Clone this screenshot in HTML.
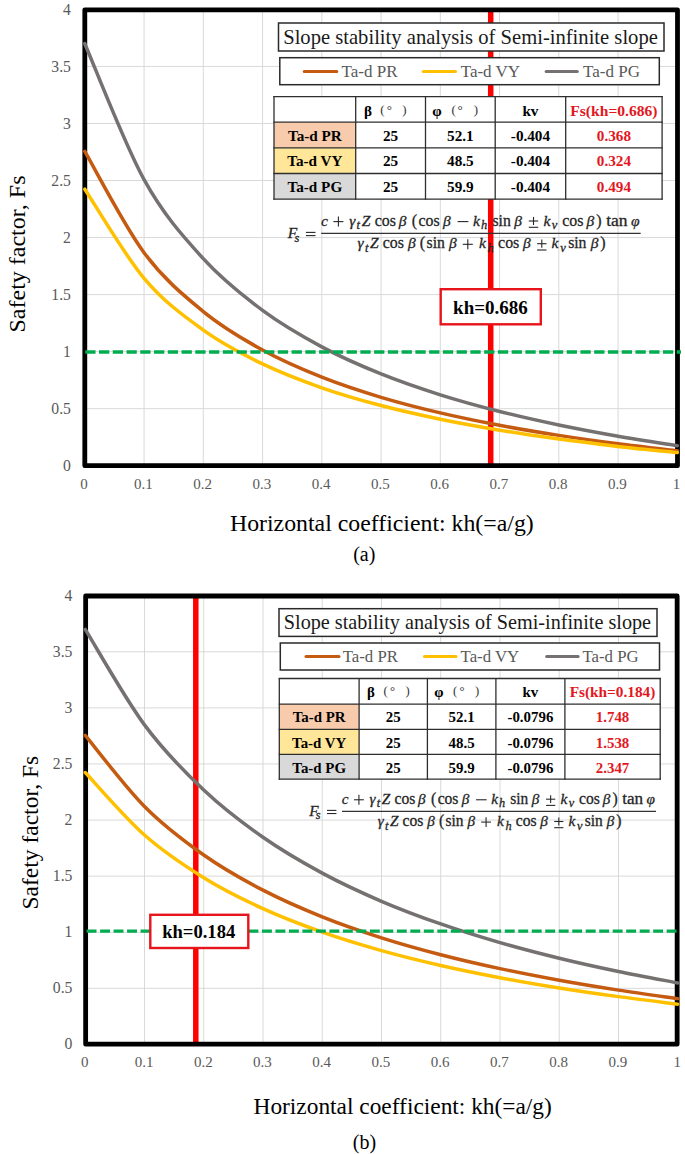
<!DOCTYPE html>
<html><head><meta charset="utf-8"><style>html,body{margin:0;padding:0;background:#fff;}svg{display:block;} svg text{font-family:"Liberation Serif",serif;}</style></head>
<body>
<svg width="685" height="1154" viewBox="0 0 685 1154">
<rect width="685" height="1154" fill="#fff"/>
<line x1="144.07" y1="9.40" x2="144.07" y2="465.70" stroke="#D9D9D9" stroke-width="1"/>
<line x1="203.32" y1="9.40" x2="203.32" y2="465.70" stroke="#D9D9D9" stroke-width="1"/>
<line x1="262.57" y1="9.40" x2="262.57" y2="465.70" stroke="#D9D9D9" stroke-width="1"/>
<line x1="321.82" y1="9.40" x2="321.82" y2="465.70" stroke="#D9D9D9" stroke-width="1"/>
<line x1="381.07" y1="9.40" x2="381.07" y2="465.70" stroke="#D9D9D9" stroke-width="1"/>
<line x1="440.32" y1="9.40" x2="440.32" y2="465.70" stroke="#D9D9D9" stroke-width="1"/>
<line x1="499.57" y1="9.40" x2="499.57" y2="465.70" stroke="#D9D9D9" stroke-width="1"/>
<line x1="558.82" y1="9.40" x2="558.82" y2="465.70" stroke="#D9D9D9" stroke-width="1"/>
<line x1="618.07" y1="9.40" x2="618.07" y2="465.70" stroke="#D9D9D9" stroke-width="1"/>
<line x1="84.82" y1="408.66" x2="677.32" y2="408.66" stroke="#D9D9D9" stroke-width="1"/>
<line x1="84.82" y1="351.62" x2="677.32" y2="351.62" stroke="#D9D9D9" stroke-width="1"/>
<line x1="84.82" y1="294.59" x2="677.32" y2="294.59" stroke="#D9D9D9" stroke-width="1"/>
<line x1="84.82" y1="237.55" x2="677.32" y2="237.55" stroke="#D9D9D9" stroke-width="1"/>
<line x1="84.82" y1="180.51" x2="677.32" y2="180.51" stroke="#D9D9D9" stroke-width="1"/>
<line x1="84.82" y1="123.47" x2="677.32" y2="123.47" stroke="#D9D9D9" stroke-width="1"/>
<line x1="84.82" y1="66.44" x2="677.32" y2="66.44" stroke="#D9D9D9" stroke-width="1"/>
<line x1="490.70" y1="9.85" x2="490.70" y2="465.65" stroke="#FF0000" stroke-width="5.5"/>
<rect x="84.80" y="9.85" width="592.70" height="455.80" fill="none" stroke="#000" stroke-width="4.8" stroke-linejoin="round"/>
<text x="70.90" y="471.10" font-size="15.7" fill="#595959" text-anchor="end">0</text>
<text x="70.90" y="414.06" font-size="15.7" fill="#595959" text-anchor="end">0.5</text>
<text x="70.90" y="357.02" font-size="15.7" fill="#595959" text-anchor="end">1</text>
<text x="70.90" y="299.99" font-size="15.7" fill="#595959" text-anchor="end">1.5</text>
<text x="70.90" y="242.95" font-size="15.7" fill="#595959" text-anchor="end">2</text>
<text x="70.90" y="185.91" font-size="15.7" fill="#595959" text-anchor="end">2.5</text>
<text x="70.90" y="128.87" font-size="15.7" fill="#595959" text-anchor="end">3</text>
<text x="70.90" y="71.84" font-size="15.7" fill="#595959" text-anchor="end">3.5</text>
<text x="70.90" y="14.80" font-size="15.7" fill="#595959" text-anchor="end">4</text>
<text x="84.02" y="489.00" font-size="15" fill="#595959" text-anchor="middle">0</text>
<text x="143.27" y="489.00" font-size="15" fill="#595959" text-anchor="middle">0.1</text>
<text x="202.52" y="489.00" font-size="15" fill="#595959" text-anchor="middle">0.2</text>
<text x="261.77" y="489.00" font-size="15" fill="#595959" text-anchor="middle">0.3</text>
<text x="321.02" y="489.00" font-size="15" fill="#595959" text-anchor="middle">0.4</text>
<text x="380.27" y="489.00" font-size="15" fill="#595959" text-anchor="middle">0.5</text>
<text x="439.52" y="489.00" font-size="15" fill="#595959" text-anchor="middle">0.6</text>
<text x="498.77" y="489.00" font-size="15" fill="#595959" text-anchor="middle">0.7</text>
<text x="558.02" y="489.00" font-size="15" fill="#595959" text-anchor="middle">0.8</text>
<text x="617.27" y="489.00" font-size="15" fill="#595959" text-anchor="middle">0.9</text>
<text x="676.52" y="489.00" font-size="15" fill="#595959" text-anchor="middle">1</text>
<path d="M84.82,151.45 C94.69,168.33 124.32,226.00 144.07,252.69 C163.82,279.37 183.57,295.33 203.32,311.55 C223.07,327.78 242.82,339.11 262.57,350.05 C282.32,360.99 302.07,369.31 321.82,377.19 C341.57,385.07 361.32,391.40 381.07,397.35 C400.82,403.31 420.57,408.26 440.32,412.92 C460.07,417.58 479.82,421.56 499.57,425.30 C519.32,429.05 539.07,432.31 558.82,435.39 C578.57,438.47 598.32,441.19 618.07,443.77 C637.82,446.34 667.44,449.65 677.32,450.83" fill="none" stroke="#C55A11" stroke-width="3.5" stroke-linejoin="round" stroke-linecap="round"/>
<path d="M84.82,189.19 C94.69,204.04 124.32,254.79 144.07,278.27 C163.82,301.75 183.57,315.79 203.32,330.07 C223.07,344.34 242.82,354.31 262.57,363.94 C282.32,373.56 302.07,380.88 321.82,387.82 C341.57,394.76 361.32,400.32 381.07,405.56 C400.82,410.80 420.57,415.16 440.32,419.26 C460.07,423.36 479.82,426.86 499.57,430.16 C519.32,433.45 539.07,436.32 558.82,439.03 C578.57,441.74 598.32,444.14 618.07,446.40 C637.82,448.66 667.44,451.58 677.32,452.61" fill="none" stroke="#FFC000" stroke-width="3.5" stroke-linejoin="round" stroke-linecap="round"/>
<path d="M84.82,43.68 C94.69,66.34 124.32,143.80 144.07,179.63 C163.82,215.47 183.57,236.90 203.32,258.69 C223.07,280.48 242.82,295.70 262.57,310.39 C282.32,325.08 302.07,336.25 321.82,346.84 C341.57,357.42 361.32,365.91 381.07,373.91 C400.82,381.91 420.57,388.56 440.32,394.82 C460.07,401.08 479.82,406.42 499.57,411.45 C519.32,416.48 539.07,420.86 558.82,425.00 C578.57,429.13 598.32,432.79 618.07,436.24 C637.82,439.70 667.44,444.15 677.32,445.73" fill="none" stroke="#767171" stroke-width="3.5" stroke-linejoin="round" stroke-linecap="round"/>
<line x1="85.25" y1="352.00" x2="681.00" y2="352.00" stroke="#00AC50" stroke-width="3.4" stroke-dasharray="10.3 3.455" />
<rect x="278.50" y="23.00" width="385.50" height="28.00" fill="#fff" stroke="#2a2a2a" stroke-width="1.5"/>
<text x="283.20" y="44.00" font-size="20.6" fill="#1a1a1a">Slope stability analysis of Semi-infinite slope</text>
<rect x="279.80" y="57.70" width="379.50" height="27.00" fill="#fff" stroke="#2a2a2a" stroke-width="1.5"/>
<line x1="304.20" y1="71.40" x2="336.80" y2="71.40" stroke="#C55A11" stroke-width="3" stroke-linecap="round"/>
<text x="341.60" y="76.80" font-size="17" fill="#595959">Ta-d PR</text>
<line x1="423.30" y1="71.40" x2="455.50" y2="71.40" stroke="#FFC000" stroke-width="3" stroke-linecap="round"/>
<text x="460.70" y="76.80" font-size="17" fill="#595959">Ta-d VY</text>
<line x1="546.10" y1="71.40" x2="577.30" y2="71.40" stroke="#767171" stroke-width="3" stroke-linecap="round"/>
<text x="583.10" y="76.80" font-size="17" fill="#595959">Ta-d PG</text>
<rect x="274.00" y="96.70" width="388.10" height="102.40" fill="#fff"/>
<rect x="274.00" y="122.20" width="81.70" height="25.60" fill="#F8CBAD"/>
<rect x="274.00" y="147.80" width="81.70" height="25.70" fill="#FFE699"/>
<rect x="274.00" y="173.50" width="81.70" height="25.60" fill="#D9D9D9"/>
<line x1="274.00" y1="96.10" x2="274.00" y2="199.70" stroke="#2e2e2e" stroke-width="1.3"/>
<line x1="355.70" y1="96.10" x2="355.70" y2="199.70" stroke="#2e2e2e" stroke-width="1.3"/>
<line x1="425.50" y1="96.10" x2="425.50" y2="199.70" stroke="#2e2e2e" stroke-width="1.3"/>
<line x1="495.20" y1="96.10" x2="495.20" y2="199.70" stroke="#2e2e2e" stroke-width="1.3"/>
<line x1="565.70" y1="96.10" x2="565.70" y2="199.70" stroke="#2e2e2e" stroke-width="1.3"/>
<line x1="662.10" y1="96.10" x2="662.10" y2="199.70" stroke="#2e2e2e" stroke-width="1.3"/>
<line x1="273.40" y1="96.70" x2="662.70" y2="96.70" stroke="#2e2e2e" stroke-width="1.3"/>
<line x1="273.40" y1="122.20" x2="662.70" y2="122.20" stroke="#2e2e2e" stroke-width="1.3"/>
<line x1="273.40" y1="147.80" x2="662.70" y2="147.80" stroke="#2e2e2e" stroke-width="1.3"/>
<line x1="273.40" y1="173.50" x2="662.70" y2="173.50" stroke="#2e2e2e" stroke-width="1.3"/>
<line x1="273.40" y1="199.10" x2="662.70" y2="199.10" stroke="#2e2e2e" stroke-width="1.3"/>
<text x="363.90" y="115.70" font-size="15.2" fill="#000" font-weight="bold">β</text>
<text x="380.30" y="113.90" font-size="12.92" fill="#333">(</text>
<text x="386.80" y="113.90" font-size="12.92" fill="#333">°</text>
<text x="402.20" y="113.90" font-size="12.92" fill="#333">)</text>
<text x="432.30" y="115.70" font-size="15.2" fill="#000" font-weight="bold">φ</text>
<text x="451.40" y="113.90" font-size="12.92" fill="#333">(</text>
<text x="457.60" y="113.90" font-size="12.92" fill="#333">°</text>
<text x="473.70" y="113.90" font-size="12.92" fill="#333">)</text>
<text x="530.45" y="115.70" font-size="15.2" fill="#000" text-anchor="middle" font-weight="bold">kv</text>
<text x="613.90" y="115.70" font-size="15.6" fill="#E3171E" text-anchor="middle" font-weight="bold">Fs(kh=0.686)</text>
<text x="314.85" y="140.80" font-size="15.2" fill="#000" text-anchor="middle" font-weight="bold">Ta-d PR</text>
<text x="390.60" y="140.80" font-size="15.2" fill="#000" text-anchor="middle" font-weight="bold">25</text>
<text x="460.35" y="140.80" font-size="15.2" fill="#000" text-anchor="middle" font-weight="bold">52.1</text>
<text x="530.45" y="140.80" font-size="15.2" fill="#000" text-anchor="middle" font-weight="bold">-0.404</text>
<text x="613.90" y="140.80" font-size="15.2" fill="#E3171E" text-anchor="middle" font-weight="bold">0.368</text>
<text x="314.85" y="166.30" font-size="15.2" fill="#000" text-anchor="middle" font-weight="bold">Ta-d VY</text>
<text x="390.60" y="166.30" font-size="15.2" fill="#000" text-anchor="middle" font-weight="bold">25</text>
<text x="460.35" y="166.30" font-size="15.2" fill="#000" text-anchor="middle" font-weight="bold">48.5</text>
<text x="530.45" y="166.30" font-size="15.2" fill="#000" text-anchor="middle" font-weight="bold">-0.404</text>
<text x="613.90" y="166.30" font-size="15.2" fill="#E3171E" text-anchor="middle" font-weight="bold">0.324</text>
<text x="314.85" y="191.80" font-size="15.2" fill="#000" text-anchor="middle" font-weight="bold">Ta-d PG</text>
<text x="390.60" y="191.80" font-size="15.2" fill="#000" text-anchor="middle" font-weight="bold">25</text>
<text x="460.35" y="191.80" font-size="15.2" fill="#000" text-anchor="middle" font-weight="bold">59.9</text>
<text x="530.45" y="191.80" font-size="15.2" fill="#000" text-anchor="middle" font-weight="bold">-0.404</text>
<text x="613.90" y="191.80" font-size="15.2" fill="#E3171E" text-anchor="middle" font-weight="bold">0.494</text>
<rect x="440.70" y="289.20" width="100.10" height="35.10" fill="#fff" stroke="#E8141B" stroke-width="2.4"/>
<text x="490.45" y="314.20" font-size="19" fill="#000" text-anchor="middle" font-weight="bold">kh=0.686</text>
<g>
<text x="292.50" y="238.00" font-size="15.5" fill="#262626" text-anchor="middle" font-style="italic" stroke="#262626" stroke-width="0.3">F</text>
<text x="296.90" y="241.60" font-size="12.5" fill="#262626" text-anchor="middle" font-style="italic" stroke="#262626" stroke-width="0.3">s</text>
<line x1="305.90" y1="232.40" x2="315.50" y2="232.40" stroke="#262626" stroke-width="1.1"/><line x1="305.90" y1="235.60" x2="315.50" y2="235.60" stroke="#262626" stroke-width="1.1"/>
<line x1="321.2" y1="233.4" x2="640.7" y2="233.4" stroke="#333" stroke-width="1.1"/>
<text x="324.40" y="225.60" font-size="15.5" fill="#262626" text-anchor="middle" font-style="italic" stroke="#262626" stroke-width="0.3">c</text>
<line x1="333.40" y1="221.60" x2="343.40" y2="221.60" stroke="#262626" stroke-width="1.1"/><line x1="338.40" y1="216.60" x2="338.40" y2="226.60" stroke="#262626" stroke-width="1.1"/>
<text x="352.20" y="225.60" font-size="15.5" fill="#262626" text-anchor="middle" font-style="italic" stroke="#262626" stroke-width="0.3">γ</text>
<text x="358.30" y="229.40" font-size="12.5" fill="#262626" text-anchor="middle" font-style="italic" stroke="#262626" stroke-width="0.3">t</text>
<text x="366.00" y="225.60" font-size="15.5" fill="#262626" text-anchor="middle" font-style="italic" stroke="#262626" stroke-width="0.3">Z</text>
<text x="385.30" y="225.60" font-size="16.0" fill="#262626" text-anchor="middle" stroke="#262626" stroke-width="0.3" textLength="21.2" lengthAdjust="spacingAndGlyphs">cos</text>
<text x="402.50" y="225.60" font-size="15.5" fill="#262626" text-anchor="middle" font-style="italic" stroke="#262626" stroke-width="0.3">β</text>
<text x="414.40" y="225.60" font-size="16.0" fill="#262626" text-anchor="middle" stroke="#262626" stroke-width="0.3">(</text>
<text x="429.10" y="225.60" font-size="16.0" fill="#262626" text-anchor="middle" stroke="#262626" stroke-width="0.3" textLength="21.2" lengthAdjust="spacingAndGlyphs">cos</text>
<text x="446.90" y="225.60" font-size="15.5" fill="#262626" text-anchor="middle" font-style="italic" stroke="#262626" stroke-width="0.3">β</text>
<line x1="457.60" y1="221.60" x2="468.40" y2="221.60" stroke="#262626" stroke-width="1.1"/>
<text x="476.50" y="225.60" font-size="15.5" fill="#262626" text-anchor="middle" font-style="italic" stroke="#262626" stroke-width="0.3">k</text>
<text x="484.00" y="229.40" font-size="12.5" fill="#262626" text-anchor="middle" font-style="italic" stroke="#262626" stroke-width="0.3">h</text>
<text x="501.60" y="225.60" font-size="16.0" fill="#262626" text-anchor="middle" stroke="#262626" stroke-width="0.3" textLength="18.3" lengthAdjust="spacingAndGlyphs">sin</text>
<text x="518.10" y="225.60" font-size="15.5" fill="#262626" text-anchor="middle" font-style="italic" stroke="#262626" stroke-width="0.3">β</text>
<line x1="528.80" y1="221.00" x2="538.20" y2="221.00" stroke="#262626" stroke-width="1.1"/><line x1="533.50" y1="216.90" x2="533.50" y2="225.00" stroke="#262626" stroke-width="1.1"/><line x1="528.80" y1="227.30" x2="538.20" y2="227.30" stroke="#262626" stroke-width="1.1"/>
<text x="547.00" y="225.60" font-size="15.5" fill="#262626" text-anchor="middle" font-style="italic" stroke="#262626" stroke-width="0.3">k</text>
<text x="554.60" y="229.40" font-size="12.5" fill="#262626" text-anchor="middle" font-style="italic" stroke="#262626" stroke-width="0.3">v</text>
<text x="572.90" y="225.60" font-size="16.0" fill="#262626" text-anchor="middle" stroke="#262626" stroke-width="0.3" textLength="21.2" lengthAdjust="spacingAndGlyphs">cos</text>
<text x="590.40" y="225.60" font-size="15.5" fill="#262626" text-anchor="middle" font-style="italic" stroke="#262626" stroke-width="0.3">β</text>
<text x="599.00" y="225.60" font-size="16.0" fill="#262626" text-anchor="middle" stroke="#262626" stroke-width="0.3">)</text>
<text x="616.90" y="225.60" font-size="16.0" fill="#262626" text-anchor="middle" stroke="#262626" stroke-width="0.3" textLength="21.3" lengthAdjust="spacingAndGlyphs">tan</text>
<text x="635.40" y="225.60" font-size="15.5" fill="#262626" text-anchor="middle" font-style="italic" stroke="#262626" stroke-width="0.3">φ</text>
<text x="360.50" y="248.30" font-size="15.5" fill="#262626" text-anchor="middle" font-style="italic" stroke="#262626" stroke-width="0.3">γ</text>
<text x="366.70" y="252.10" font-size="12.5" fill="#262626" text-anchor="middle" font-style="italic" stroke="#262626" stroke-width="0.3">t</text>
<text x="374.40" y="248.30" font-size="15.5" fill="#262626" text-anchor="middle" font-style="italic" stroke="#262626" stroke-width="0.3">Z</text>
<text x="393.40" y="248.30" font-size="16.0" fill="#262626" text-anchor="middle" stroke="#262626" stroke-width="0.3" textLength="21.2" lengthAdjust="spacingAndGlyphs">cos</text>
<text x="411.90" y="248.30" font-size="15.5" fill="#262626" text-anchor="middle" font-style="italic" stroke="#262626" stroke-width="0.3">β</text>
<text x="422.50" y="248.30" font-size="16.0" fill="#262626" text-anchor="middle" stroke="#262626" stroke-width="0.3">(</text>
<text x="435.70" y="248.30" font-size="16.0" fill="#262626" text-anchor="middle" stroke="#262626" stroke-width="0.3" textLength="18.3" lengthAdjust="spacingAndGlyphs">sin</text>
<text x="452.80" y="248.30" font-size="15.5" fill="#262626" text-anchor="middle" font-style="italic" stroke="#262626" stroke-width="0.3">β</text>
<line x1="462.80" y1="244.30" x2="472.80" y2="244.30" stroke="#262626" stroke-width="1.1"/><line x1="467.80" y1="239.30" x2="467.80" y2="249.30" stroke="#262626" stroke-width="1.1"/>
<text x="482.40" y="248.30" font-size="15.5" fill="#262626" text-anchor="middle" font-style="italic" stroke="#262626" stroke-width="0.3">k</text>
<text x="490.60" y="252.10" font-size="12.5" fill="#262626" text-anchor="middle" font-style="italic" stroke="#262626" stroke-width="0.3">h</text>
<text x="508.70" y="248.30" font-size="16.0" fill="#262626" text-anchor="middle" stroke="#262626" stroke-width="0.3" textLength="21.2" lengthAdjust="spacingAndGlyphs">cos</text>
<text x="526.90" y="248.30" font-size="15.5" fill="#262626" text-anchor="middle" font-style="italic" stroke="#262626" stroke-width="0.3">β</text>
<line x1="537.10" y1="243.70" x2="546.50" y2="243.70" stroke="#262626" stroke-width="1.1"/><line x1="541.80" y1="239.60" x2="541.80" y2="247.70" stroke="#262626" stroke-width="1.1"/><line x1="537.10" y1="250.00" x2="546.50" y2="250.00" stroke="#262626" stroke-width="1.1"/>
<text x="555.00" y="248.30" font-size="15.5" fill="#262626" text-anchor="middle" font-style="italic" stroke="#262626" stroke-width="0.3">k</text>
<text x="563.00" y="252.10" font-size="12.5" fill="#262626" text-anchor="middle" font-style="italic" stroke="#262626" stroke-width="0.3">v</text>
<text x="577.30" y="248.30" font-size="16.0" fill="#262626" text-anchor="middle" stroke="#262626" stroke-width="0.3" textLength="18.3" lengthAdjust="spacingAndGlyphs">sin</text>
<text x="594.50" y="248.30" font-size="15.5" fill="#262626" text-anchor="middle" font-style="italic" stroke="#262626" stroke-width="0.3">β</text>
<text x="603.00" y="248.30" font-size="16.0" fill="#262626" text-anchor="middle" stroke="#262626" stroke-width="0.3">)</text>
</g>
<line x1="144.50" y1="595.70" x2="144.50" y2="1044.40" stroke="#D9D9D9" stroke-width="1"/>
<line x1="203.75" y1="595.70" x2="203.75" y2="1044.40" stroke="#D9D9D9" stroke-width="1"/>
<line x1="262.99" y1="595.70" x2="262.99" y2="1044.40" stroke="#D9D9D9" stroke-width="1"/>
<line x1="322.24" y1="595.70" x2="322.24" y2="1044.40" stroke="#D9D9D9" stroke-width="1"/>
<line x1="381.48" y1="595.70" x2="381.48" y2="1044.40" stroke="#D9D9D9" stroke-width="1"/>
<line x1="440.72" y1="595.70" x2="440.72" y2="1044.40" stroke="#D9D9D9" stroke-width="1"/>
<line x1="499.97" y1="595.70" x2="499.97" y2="1044.40" stroke="#D9D9D9" stroke-width="1"/>
<line x1="559.21" y1="595.70" x2="559.21" y2="1044.40" stroke="#D9D9D9" stroke-width="1"/>
<line x1="618.46" y1="595.70" x2="618.46" y2="1044.40" stroke="#D9D9D9" stroke-width="1"/>
<line x1="85.26" y1="988.31" x2="677.70" y2="988.31" stroke="#D9D9D9" stroke-width="1"/>
<line x1="85.26" y1="932.23" x2="677.70" y2="932.23" stroke="#D9D9D9" stroke-width="1"/>
<line x1="85.26" y1="876.14" x2="677.70" y2="876.14" stroke="#D9D9D9" stroke-width="1"/>
<line x1="85.26" y1="820.05" x2="677.70" y2="820.05" stroke="#D9D9D9" stroke-width="1"/>
<line x1="85.26" y1="763.96" x2="677.70" y2="763.96" stroke="#D9D9D9" stroke-width="1"/>
<line x1="85.26" y1="707.88" x2="677.70" y2="707.88" stroke="#D9D9D9" stroke-width="1"/>
<line x1="85.26" y1="651.79" x2="677.70" y2="651.79" stroke="#D9D9D9" stroke-width="1"/>
<line x1="195.80" y1="596.00" x2="195.80" y2="1044.15" stroke="#FF0000" stroke-width="5.5"/>
<rect x="85.65" y="596.00" width="591.50" height="448.15" fill="none" stroke="#000" stroke-width="4.8" stroke-linejoin="round"/>
<text x="72.40" y="1049.40" font-size="15.7" fill="#595959" text-anchor="end">0</text>
<text x="72.40" y="993.31" font-size="15.7" fill="#595959" text-anchor="end">0.5</text>
<text x="72.40" y="937.23" font-size="15.7" fill="#595959" text-anchor="end">1</text>
<text x="72.40" y="881.14" font-size="15.7" fill="#595959" text-anchor="end">1.5</text>
<text x="72.40" y="825.05" font-size="15.7" fill="#595959" text-anchor="end">2</text>
<text x="72.40" y="768.96" font-size="15.7" fill="#595959" text-anchor="end">2.5</text>
<text x="72.40" y="712.88" font-size="15.7" fill="#595959" text-anchor="end">3</text>
<text x="72.40" y="656.79" font-size="15.7" fill="#595959" text-anchor="end">3.5</text>
<text x="72.40" y="600.70" font-size="15.7" fill="#595959" text-anchor="end">4</text>
<text x="84.76" y="1066.80" font-size="15" fill="#595959" text-anchor="middle">0</text>
<text x="144.00" y="1066.80" font-size="15" fill="#595959" text-anchor="middle">0.1</text>
<text x="203.25" y="1066.80" font-size="15" fill="#595959" text-anchor="middle">0.2</text>
<text x="262.49" y="1066.80" font-size="15" fill="#595959" text-anchor="middle">0.3</text>
<text x="321.74" y="1066.80" font-size="15" fill="#595959" text-anchor="middle">0.4</text>
<text x="380.98" y="1066.80" font-size="15" fill="#595959" text-anchor="middle">0.5</text>
<text x="440.22" y="1066.80" font-size="15" fill="#595959" text-anchor="middle">0.6</text>
<text x="499.47" y="1066.80" font-size="15" fill="#595959" text-anchor="middle">0.7</text>
<text x="558.71" y="1066.80" font-size="15" fill="#595959" text-anchor="middle">0.8</text>
<text x="617.96" y="1066.80" font-size="15" fill="#595959" text-anchor="middle">0.9</text>
<text x="677.20" y="1066.80" font-size="15" fill="#595959" text-anchor="middle">1</text>
<path d="M85.26,735.39 C95.13,747.24 124.76,786.55 144.50,806.48 C164.25,826.41 184.00,841.02 203.75,854.97 C223.50,868.92 243.24,879.85 262.99,890.16 C282.74,900.48 302.49,908.92 322.24,916.87 C341.98,924.81 361.73,931.52 381.48,937.82 C401.23,944.13 420.98,949.58 440.72,954.71 C460.47,959.84 480.22,964.35 499.97,968.60 C519.72,972.86 539.46,976.65 559.21,980.23 C578.96,983.82 598.71,987.05 618.46,990.12 C638.20,993.18 667.83,997.20 677.70,998.62" fill="none" stroke="#C55A11" stroke-width="3.5" stroke-linejoin="round" stroke-linecap="round"/>
<path d="M85.26,772.50 C95.13,782.92 124.76,817.51 144.50,835.05 C164.25,852.59 184.00,865.45 203.75,877.72 C223.50,889.99 243.24,899.61 262.99,908.69 C282.74,917.76 302.49,925.19 322.24,932.18 C341.98,939.17 361.73,945.07 381.48,950.62 C401.23,956.17 420.98,960.97 440.72,965.48 C460.47,969.99 480.22,973.96 499.97,977.70 C519.72,981.45 539.46,984.79 559.21,987.94 C578.96,991.10 598.71,993.94 618.46,996.64 C638.20,999.33 667.83,1002.87 677.70,1004.12" fill="none" stroke="#FFC000" stroke-width="3.5" stroke-linejoin="round" stroke-linecap="round"/>
<path d="M85.26,629.41 C95.13,645.32 124.76,698.12 144.50,724.88 C164.25,751.65 184.00,771.28 203.75,790.01 C223.50,808.74 243.24,823.42 262.99,837.27 C282.74,851.12 302.49,862.46 322.24,873.13 C341.98,883.80 361.73,892.81 381.48,901.27 C401.23,909.74 420.98,917.06 440.72,923.95 C460.47,930.84 480.22,936.89 499.97,942.61 C519.72,948.32 539.46,953.41 559.21,958.23 C578.96,963.05 598.71,967.39 618.46,971.50 C638.20,975.62 667.83,981.01 677.70,982.92" fill="none" stroke="#767171" stroke-width="3.5" stroke-linejoin="round" stroke-linecap="round"/>
<line x1="86.60" y1="931.10" x2="677.50" y2="931.10" stroke="#00AC50" stroke-width="3.4" stroke-dasharray="9.9 3.59" />
<rect x="279.00" y="608.70" width="378.00" height="27.70" fill="#fff" stroke="#2a2a2a" stroke-width="1.5"/>
<text x="283.80" y="629.40" font-size="20.2" fill="#1a1a1a">Slope stability analysis of Semi-infinite slope</text>
<rect x="280.30" y="643.00" width="379.20" height="27.00" fill="#fff" stroke="#2a2a2a" stroke-width="1.5"/>
<line x1="306.00" y1="656.60" x2="339.00" y2="656.60" stroke="#C55A11" stroke-width="3" stroke-linecap="round"/>
<text x="342.70" y="661.90" font-size="16.8" fill="#595959">Ta-d PR</text>
<line x1="424.50" y1="656.60" x2="456.00" y2="656.60" stroke="#FFC000" stroke-width="3" stroke-linecap="round"/>
<text x="460.60" y="661.90" font-size="16.8" fill="#595959">Ta-d VY</text>
<line x1="546.70" y1="656.60" x2="578.10" y2="656.60" stroke="#767171" stroke-width="3" stroke-linecap="round"/>
<text x="582.50" y="661.90" font-size="16.8" fill="#595959">Ta-d PG</text>
<rect x="279.30" y="678.50" width="380.90" height="100.70" fill="#fff"/>
<rect x="279.30" y="704.10" width="79.80" height="25.30" fill="#F8CBAD"/>
<rect x="279.30" y="729.40" width="79.80" height="25.00" fill="#FFE699"/>
<rect x="279.30" y="754.40" width="79.80" height="24.80" fill="#D9D9D9"/>
<line x1="279.30" y1="677.90" x2="279.30" y2="779.80" stroke="#2e2e2e" stroke-width="1.3"/>
<line x1="359.10" y1="677.90" x2="359.10" y2="779.80" stroke="#2e2e2e" stroke-width="1.3"/>
<line x1="427.40" y1="677.90" x2="427.40" y2="779.80" stroke="#2e2e2e" stroke-width="1.3"/>
<line x1="495.90" y1="677.90" x2="495.90" y2="779.80" stroke="#2e2e2e" stroke-width="1.3"/>
<line x1="564.90" y1="677.90" x2="564.90" y2="779.80" stroke="#2e2e2e" stroke-width="1.3"/>
<line x1="660.20" y1="677.90" x2="660.20" y2="779.80" stroke="#2e2e2e" stroke-width="1.3"/>
<line x1="278.70" y1="678.50" x2="660.80" y2="678.50" stroke="#2e2e2e" stroke-width="1.3"/>
<line x1="278.70" y1="704.10" x2="660.80" y2="704.10" stroke="#2e2e2e" stroke-width="1.3"/>
<line x1="278.70" y1="729.40" x2="660.80" y2="729.40" stroke="#2e2e2e" stroke-width="1.3"/>
<line x1="278.70" y1="754.40" x2="660.80" y2="754.40" stroke="#2e2e2e" stroke-width="1.3"/>
<line x1="278.70" y1="779.20" x2="660.80" y2="779.20" stroke="#2e2e2e" stroke-width="1.3"/>
<text x="366.90" y="697.00" font-size="14.9" fill="#000" font-weight="bold">β</text>
<text x="383.60" y="695.20" font-size="12.665" fill="#333">(</text>
<text x="389.90" y="695.20" font-size="12.665" fill="#333">°</text>
<text x="405.50" y="695.20" font-size="12.665" fill="#333">)</text>
<text x="434.30" y="697.00" font-size="14.9" fill="#000" font-weight="bold">φ</text>
<text x="453.00" y="695.20" font-size="12.665" fill="#333">(</text>
<text x="459.40" y="695.20" font-size="12.665" fill="#333">°</text>
<text x="475.00" y="695.20" font-size="12.665" fill="#333">)</text>
<text x="530.40" y="697.00" font-size="14.9" fill="#000" text-anchor="middle" font-weight="bold">kv</text>
<text x="612.55" y="697.00" font-size="15.3" fill="#E3171E" text-anchor="middle" font-weight="bold">Fs(kh=0.184)</text>
<text x="319.20" y="722.40" font-size="14.9" fill="#000" text-anchor="middle" font-weight="bold">Ta-d PR</text>
<text x="393.25" y="722.40" font-size="14.9" fill="#000" text-anchor="middle" font-weight="bold">25</text>
<text x="461.65" y="722.40" font-size="14.9" fill="#000" text-anchor="middle" font-weight="bold">52.1</text>
<text x="530.40" y="722.40" font-size="14.9" fill="#000" text-anchor="middle" font-weight="bold">-0.0796</text>
<text x="612.55" y="722.40" font-size="14.9" fill="#E3171E" text-anchor="middle" font-weight="bold">1.748</text>
<text x="319.20" y="747.60" font-size="14.9" fill="#000" text-anchor="middle" font-weight="bold">Ta-d VY</text>
<text x="393.25" y="747.60" font-size="14.9" fill="#000" text-anchor="middle" font-weight="bold">25</text>
<text x="461.65" y="747.60" font-size="14.9" fill="#000" text-anchor="middle" font-weight="bold">48.5</text>
<text x="530.40" y="747.60" font-size="14.9" fill="#000" text-anchor="middle" font-weight="bold">-0.0796</text>
<text x="612.55" y="747.60" font-size="14.9" fill="#E3171E" text-anchor="middle" font-weight="bold">1.538</text>
<text x="319.20" y="772.80" font-size="14.9" fill="#000" text-anchor="middle" font-weight="bold">Ta-d PG</text>
<text x="393.25" y="772.80" font-size="14.9" fill="#000" text-anchor="middle" font-weight="bold">25</text>
<text x="461.65" y="772.80" font-size="14.9" fill="#000" text-anchor="middle" font-weight="bold">59.9</text>
<text x="530.40" y="772.80" font-size="14.9" fill="#000" text-anchor="middle" font-weight="bold">-0.0796</text>
<text x="612.55" y="772.80" font-size="14.9" fill="#E3171E" text-anchor="middle" font-weight="bold">2.347</text>
<rect x="150.30" y="914.80" width="98.00" height="33.20" fill="#fff" stroke="#E8141B" stroke-width="2.4"/>
<text x="198.70" y="938.20" font-size="18.6" fill="#000" text-anchor="middle" font-weight="bold">kh=0.184</text>
<g transform="matrix(0.9828 0 0 0.9828 26.33 581.99)">
<text x="292.50" y="238.00" font-size="15.5" fill="#262626" text-anchor="middle" font-style="italic" stroke="#262626" stroke-width="0.3">F</text>
<text x="296.90" y="241.60" font-size="12.5" fill="#262626" text-anchor="middle" font-style="italic" stroke="#262626" stroke-width="0.3">s</text>
<line x1="305.90" y1="232.40" x2="315.50" y2="232.40" stroke="#262626" stroke-width="1.1"/><line x1="305.90" y1="235.60" x2="315.50" y2="235.60" stroke="#262626" stroke-width="1.1"/>
<line x1="321.2" y1="233.4" x2="640.7" y2="233.4" stroke="#333" stroke-width="1.1"/>
<text x="324.40" y="225.60" font-size="15.5" fill="#262626" text-anchor="middle" font-style="italic" stroke="#262626" stroke-width="0.3">c</text>
<line x1="333.40" y1="221.60" x2="343.40" y2="221.60" stroke="#262626" stroke-width="1.1"/><line x1="338.40" y1="216.60" x2="338.40" y2="226.60" stroke="#262626" stroke-width="1.1"/>
<text x="352.20" y="225.60" font-size="15.5" fill="#262626" text-anchor="middle" font-style="italic" stroke="#262626" stroke-width="0.3">γ</text>
<text x="358.30" y="229.40" font-size="12.5" fill="#262626" text-anchor="middle" font-style="italic" stroke="#262626" stroke-width="0.3">t</text>
<text x="366.00" y="225.60" font-size="15.5" fill="#262626" text-anchor="middle" font-style="italic" stroke="#262626" stroke-width="0.3">Z</text>
<text x="385.30" y="225.60" font-size="16.0" fill="#262626" text-anchor="middle" stroke="#262626" stroke-width="0.3" textLength="21.2" lengthAdjust="spacingAndGlyphs">cos</text>
<text x="402.50" y="225.60" font-size="15.5" fill="#262626" text-anchor="middle" font-style="italic" stroke="#262626" stroke-width="0.3">β</text>
<text x="414.40" y="225.60" font-size="16.0" fill="#262626" text-anchor="middle" stroke="#262626" stroke-width="0.3">(</text>
<text x="429.10" y="225.60" font-size="16.0" fill="#262626" text-anchor="middle" stroke="#262626" stroke-width="0.3" textLength="21.2" lengthAdjust="spacingAndGlyphs">cos</text>
<text x="446.90" y="225.60" font-size="15.5" fill="#262626" text-anchor="middle" font-style="italic" stroke="#262626" stroke-width="0.3">β</text>
<line x1="457.60" y1="221.60" x2="468.40" y2="221.60" stroke="#262626" stroke-width="1.1"/>
<text x="476.50" y="225.60" font-size="15.5" fill="#262626" text-anchor="middle" font-style="italic" stroke="#262626" stroke-width="0.3">k</text>
<text x="484.00" y="229.40" font-size="12.5" fill="#262626" text-anchor="middle" font-style="italic" stroke="#262626" stroke-width="0.3">h</text>
<text x="501.60" y="225.60" font-size="16.0" fill="#262626" text-anchor="middle" stroke="#262626" stroke-width="0.3" textLength="18.3" lengthAdjust="spacingAndGlyphs">sin</text>
<text x="518.10" y="225.60" font-size="15.5" fill="#262626" text-anchor="middle" font-style="italic" stroke="#262626" stroke-width="0.3">β</text>
<line x1="528.80" y1="221.00" x2="538.20" y2="221.00" stroke="#262626" stroke-width="1.1"/><line x1="533.50" y1="216.90" x2="533.50" y2="225.00" stroke="#262626" stroke-width="1.1"/><line x1="528.80" y1="227.30" x2="538.20" y2="227.30" stroke="#262626" stroke-width="1.1"/>
<text x="547.00" y="225.60" font-size="15.5" fill="#262626" text-anchor="middle" font-style="italic" stroke="#262626" stroke-width="0.3">k</text>
<text x="554.60" y="229.40" font-size="12.5" fill="#262626" text-anchor="middle" font-style="italic" stroke="#262626" stroke-width="0.3">v</text>
<text x="572.90" y="225.60" font-size="16.0" fill="#262626" text-anchor="middle" stroke="#262626" stroke-width="0.3" textLength="21.2" lengthAdjust="spacingAndGlyphs">cos</text>
<text x="590.40" y="225.60" font-size="15.5" fill="#262626" text-anchor="middle" font-style="italic" stroke="#262626" stroke-width="0.3">β</text>
<text x="599.00" y="225.60" font-size="16.0" fill="#262626" text-anchor="middle" stroke="#262626" stroke-width="0.3">)</text>
<text x="616.90" y="225.60" font-size="16.0" fill="#262626" text-anchor="middle" stroke="#262626" stroke-width="0.3" textLength="21.3" lengthAdjust="spacingAndGlyphs">tan</text>
<text x="635.40" y="225.60" font-size="15.5" fill="#262626" text-anchor="middle" font-style="italic" stroke="#262626" stroke-width="0.3">φ</text>
<text x="360.50" y="248.30" font-size="15.5" fill="#262626" text-anchor="middle" font-style="italic" stroke="#262626" stroke-width="0.3">γ</text>
<text x="366.70" y="252.10" font-size="12.5" fill="#262626" text-anchor="middle" font-style="italic" stroke="#262626" stroke-width="0.3">t</text>
<text x="374.40" y="248.30" font-size="15.5" fill="#262626" text-anchor="middle" font-style="italic" stroke="#262626" stroke-width="0.3">Z</text>
<text x="393.40" y="248.30" font-size="16.0" fill="#262626" text-anchor="middle" stroke="#262626" stroke-width="0.3" textLength="21.2" lengthAdjust="spacingAndGlyphs">cos</text>
<text x="411.90" y="248.30" font-size="15.5" fill="#262626" text-anchor="middle" font-style="italic" stroke="#262626" stroke-width="0.3">β</text>
<text x="422.50" y="248.30" font-size="16.0" fill="#262626" text-anchor="middle" stroke="#262626" stroke-width="0.3">(</text>
<text x="435.70" y="248.30" font-size="16.0" fill="#262626" text-anchor="middle" stroke="#262626" stroke-width="0.3" textLength="18.3" lengthAdjust="spacingAndGlyphs">sin</text>
<text x="452.80" y="248.30" font-size="15.5" fill="#262626" text-anchor="middle" font-style="italic" stroke="#262626" stroke-width="0.3">β</text>
<line x1="462.80" y1="244.30" x2="472.80" y2="244.30" stroke="#262626" stroke-width="1.1"/><line x1="467.80" y1="239.30" x2="467.80" y2="249.30" stroke="#262626" stroke-width="1.1"/>
<text x="482.40" y="248.30" font-size="15.5" fill="#262626" text-anchor="middle" font-style="italic" stroke="#262626" stroke-width="0.3">k</text>
<text x="490.60" y="252.10" font-size="12.5" fill="#262626" text-anchor="middle" font-style="italic" stroke="#262626" stroke-width="0.3">h</text>
<text x="508.70" y="248.30" font-size="16.0" fill="#262626" text-anchor="middle" stroke="#262626" stroke-width="0.3" textLength="21.2" lengthAdjust="spacingAndGlyphs">cos</text>
<text x="526.90" y="248.30" font-size="15.5" fill="#262626" text-anchor="middle" font-style="italic" stroke="#262626" stroke-width="0.3">β</text>
<line x1="537.10" y1="243.70" x2="546.50" y2="243.70" stroke="#262626" stroke-width="1.1"/><line x1="541.80" y1="239.60" x2="541.80" y2="247.70" stroke="#262626" stroke-width="1.1"/><line x1="537.10" y1="250.00" x2="546.50" y2="250.00" stroke="#262626" stroke-width="1.1"/>
<text x="555.00" y="248.30" font-size="15.5" fill="#262626" text-anchor="middle" font-style="italic" stroke="#262626" stroke-width="0.3">k</text>
<text x="563.00" y="252.10" font-size="12.5" fill="#262626" text-anchor="middle" font-style="italic" stroke="#262626" stroke-width="0.3">v</text>
<text x="577.30" y="248.30" font-size="16.0" fill="#262626" text-anchor="middle" stroke="#262626" stroke-width="0.3" textLength="18.3" lengthAdjust="spacingAndGlyphs">sin</text>
<text x="594.50" y="248.30" font-size="15.5" fill="#262626" text-anchor="middle" font-style="italic" stroke="#262626" stroke-width="0.3">β</text>
<text x="603.00" y="248.30" font-size="16.0" fill="#262626" text-anchor="middle" stroke="#262626" stroke-width="0.3">)</text>
</g>
<text x="230" y="531.3" font-size="23.8" fill="#000">Horizontal coefficient: kh(=a/g)</text>
<text transform="translate(25,332.5) rotate(-90)" x="0" y="0" font-size="24" fill="#000">Safety factor, Fs</text>
<text x="364.3" y="560.8" font-size="20" fill="#000" text-anchor="middle">(a)</text>
<text x="253.5" y="1113.5" font-size="23.38" fill="#000">Horizontal coefficient: kh(=a/g)</text>
<text transform="translate(37.8,909.5) rotate(-90)" x="0" y="0" font-size="23.5" fill="#000">Safety factor, Fs</text>
<text x="364.4" y="1149.2" font-size="20" fill="#000" text-anchor="middle">(b)</text>
</svg>
</body></html>
